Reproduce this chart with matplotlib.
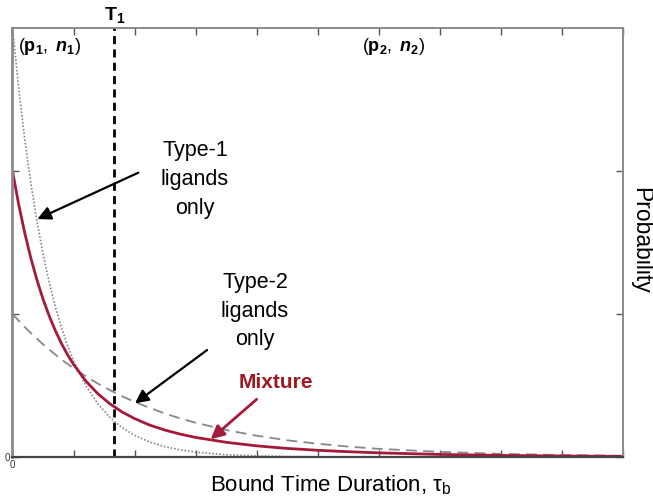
import matplotlib
matplotlib.use("Agg")
import matplotlib.pyplot as plt

plt.rcParams['font.family'] = ['Liberation Sans', 'DejaVu Sans']
plt.rcParams['mathtext.fontset'] = 'custom'
plt.rcParams['mathtext.rm'] = 'Liberation Sans'
plt.rcParams['mathtext.bf'] = 'Liberation Sans:bold'
plt.rcParams['mathtext.it'] = 'Liberation Sans:italic'
plt.rcParams['mathtext.bfit'] = 'Liberation Sans:bold:italic'

# bound time duration (x) samples
tau = [0, 0.1, 0.2, 0.3, 0.4, 0.5, 0.6, 0.7, 0.8, 0.9, 1.0, 1.2, 1.4, 1.6, 1.8,
       2.0, 2.25, 2.5, 2.75, 3.0, 3.5, 4.0, 4.5, 5.0, 5.5, 6.0, 7.0, 8.0, 9.0, 10.0]
type1 = [3.000, 2.584, 2.226, 1.917, 1.652, 1.422, 1.225, 1.055, 0.909, 0.783,
         0.674, 0.500, 0.371, 0.275, 0.204, 0.152, 0.104, 0.072, 0.050, 0.034,
         0.016, 0.0077, 0.0036, 0.0017, 0.0008, 0.0004, 0.0001, 0.0, 0.0, 0.0]
type2 = [1.000, 0.954, 0.909, 0.867, 0.827, 0.788, 0.752, 0.717, 0.683, 0.651,
         0.621, 0.565, 0.513, 0.467, 0.424, 0.386, 0.343, 0.304, 0.270, 0.240,
         0.189, 0.149, 0.117, 0.093, 0.073, 0.057, 0.036, 0.022, 0.014, 0.009]
mixture = [2.000, 1.769, 1.568, 1.392, 1.239, 1.105, 0.988, 0.886, 0.796, 0.717,
           0.648, 0.532, 0.442, 0.371, 0.314, 0.269, 0.223, 0.188, 0.160, 0.137,
           0.103, 0.078, 0.060, 0.047, 0.037, 0.029, 0.018, 0.011, 0.007, 0.004]
T1 = 1.67
x_ticks = [0, 1, 2, 3, 4, 5, 6, 7, 8, 9, 10]
x_ticklabels = ['0', '', '', '', '', '', '', '', '', '', '']
y_ticks = [0, 1, 2]
y_ticklabels = ['0', '', '']

fig = plt.figure(figsize=(6.53, 5.03), dpi=100)
ax = fig.add_axes([12.5/653, 1-457/503, 610/653, 429/503])

red = '#a51a3a'
ax.plot(tau, type1, color='#888888', lw=1.2, linestyle=(0, (1, 1.1)))
ax.plot(tau, type2, color='#888888', lw=1.3, linestyle=(0, (6, 3.5)))
ax.plot(tau, mixture, color=red, lw=2.0, solid_capstyle='butt')
ax.axvline(T1, color='black', lw=2.0, linestyle=(0, (2.9, 1.9)))

ax.set_xlim(0, 10)
ax.set_ylim(0, 3)
ax.set_xticks(x_ticks)
ax.set_xticklabels(x_ticklabels)
ax.set_yticks(y_ticks)
ax.set_yticklabels(y_ticklabels)
ax.tick_params(direction='in', top=True, right=True, length=5, width=1,
               color='#555555', labelsize=7, pad=2, labelcolor='#333333')

for s in ['left', 'top', 'right']:
    ax.spines[s].set_color('#8a8a8a')
    ax.spines[s].set_linewidth(1.4)
ax.spines['left'].set_linewidth(2.0)
ax.spines['bottom'].set_color('#444444')
ax.spines['bottom'].set_linewidth(1.6)

# T1 label
ax.text(T1, 1.031, r'$\mathbf{T}_\mathbf{1}$', transform=ax.get_xaxis_transform(),
        ha='center', va='center', fontsize=14)

ax.text(0.09, 2.87, r'$(\mathbf{p}_\mathbf{1},\ \mathbfit{n}_\mathbf{1})$',
        ha='left', va='center', fontsize=13)
ax.text(5.73, 2.87, r'$(\mathbf{p}_\mathbf{2},\ \mathbfit{n}_\mathbf{2})$',
        ha='left', va='center', fontsize=13)

ax.text(2.99, 1.94, 'Type-1\nligands\nonly', ha='center', va='center',
        fontsize=15.5, linespacing=1.5)
ax.text(3.975, 1.02, 'Type-2\nligands\nonly', ha='center', va='center',
        fontsize=15.5, linespacing=1.45)
ax.text(4.32, 0.524, 'Mixture', ha='center', va='center', fontsize=15,
        fontweight='bold', color='#9c1a1e')

ax.annotate('', xy=(0.407, 1.664), xytext=(2.062, 1.988),
            arrowprops=dict(arrowstyle='-|>', color='black', lw=1.6,
                            mutation_scale=20, shrinkA=0, shrinkB=0))
ax.annotate('', xy=(2.008, 0.3755), xytext=(3.19, 0.748),
            arrowprops=dict(arrowstyle='-|>', color='black', lw=1.6,
                            mutation_scale=20, shrinkA=0, shrinkB=0))
ax.annotate('', xy=(3.249, 0.124), xytext=(4.003, 0.4035),
            arrowprops=dict(arrowstyle='-|>', color=red, lw=2.0,
                            mutation_scale=20, shrinkA=0, shrinkB=0))

ax.text(0.522, -0.065, r'Bound Time Duration, $\mathregular{\tau_b}$',
        transform=ax.transAxes, ha='center', va='center', fontsize=16)
ax.text(1.030, 0.506, 'Probability', transform=ax.transAxes, rotation=270,
        ha='center', va='center', fontsize=16.5)

fig.savefig('out.png', dpi=100)
